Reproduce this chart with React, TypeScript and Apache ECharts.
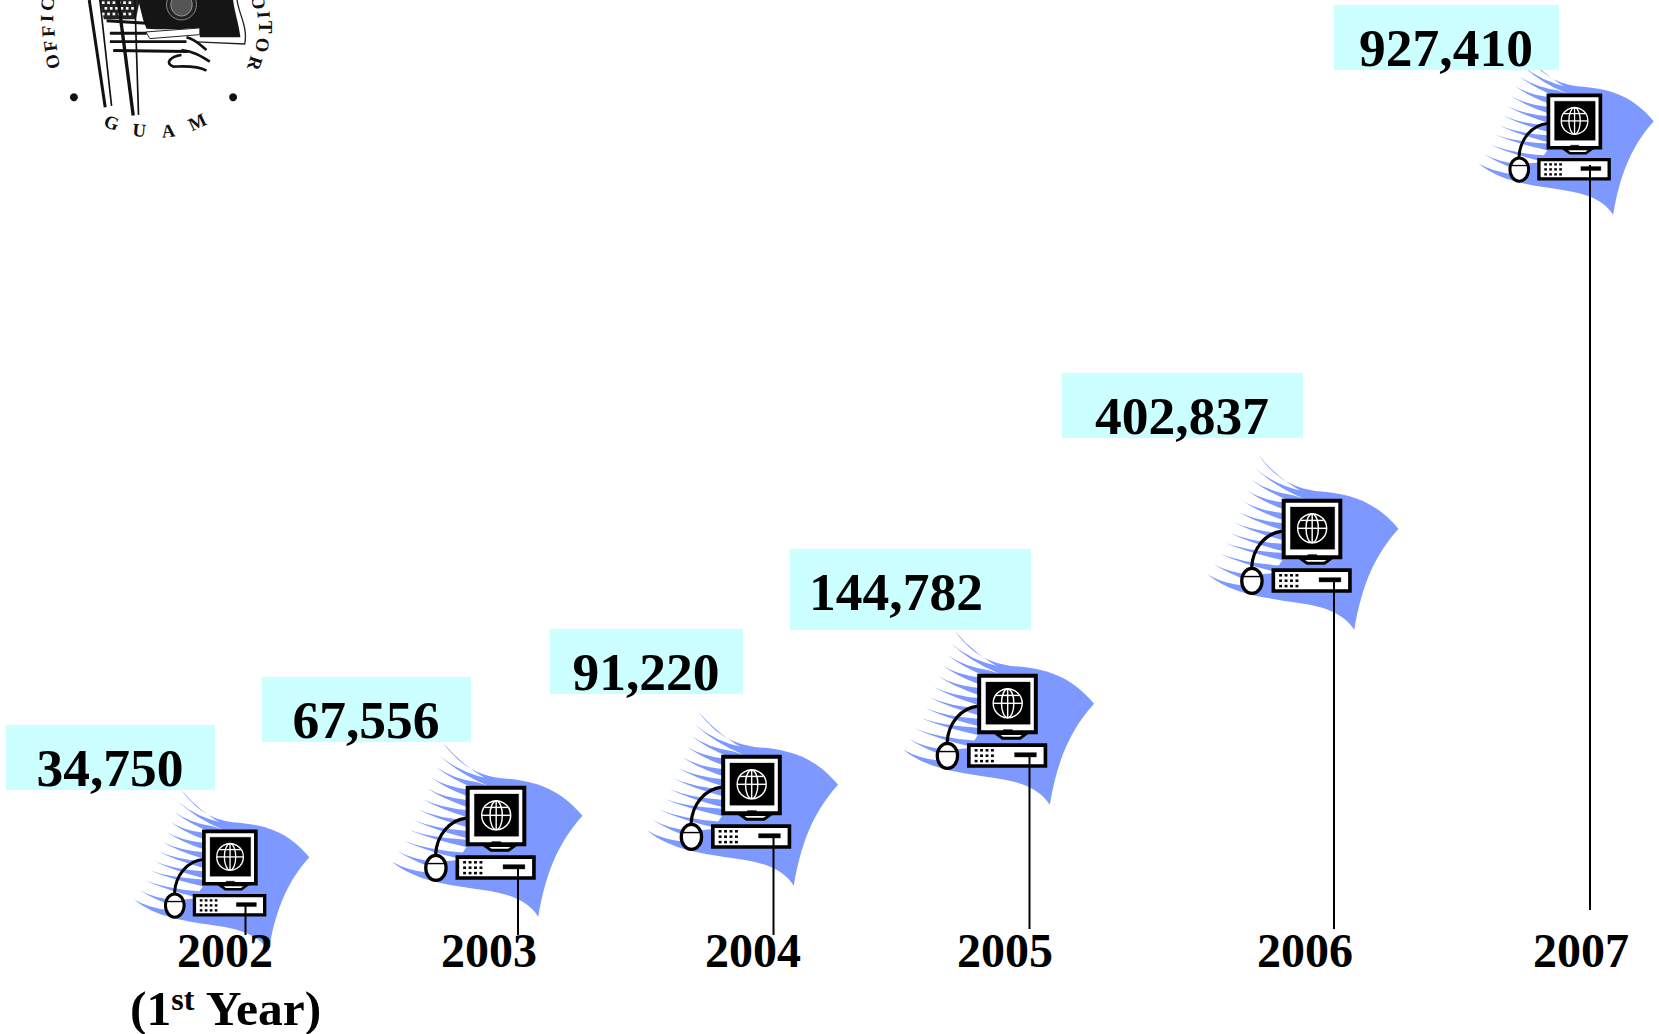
import React, { useEffect, useRef } from "react";
import * as echarts from "echarts";

// ---- data ----
const years = ["2002", "2003", "2004", "2005", "2006", "2007"];
const values = [34750, 67556, 91220, 144782, 402837, 927410];
const valueLabels = ["34,750", "67,556", "91,220", "144,782", "402,837", "927,410"];

// ---- hand layout of the pictogram, in page units (y measured up from the page bottom) ----
const stemX = [245.5, 518, 773.5, 1029.5, 1334, 1590];
const stemTop = [131, 169, 200, 281, 456, 869];
const stemBase = [99, 99, 99, 105, 105, 124];
const iconScaleX = [1, 1.09, 1.09, 1.09, 1.09, 1];
const iconScaleY = [1, 1.08, 1.08, 1.08, 1.08, 1];
const iconDX = [0, -5, -5, -5, -5, 0];
const iconDY = [0, 0, 0, 0, 0, 2];
const yearX = [225, 489, 753, 1005, 1305, 1581];
const yearY = [84, 84, 84, 84, 84, 84];
const boxLeft = [6, 262, 550, 790, 1062, 1334];
const boxRight = [215, 471, 743, 1031, 1303, 1559];
const boxTop = [309, 357, 405, 485, 661, 1029];
const boxBottom = [244, 292, 340, 404, 596, 964];
const labelX = [110, 366, 646, 896, 1182, 1446];
const labelY = [266, 314, 362, 442, 618, 986];

const BLUE = "#7d99ff";
const CYAN = "#ccffff";

// wave with streaks, in 3x zoom units
const tips = [[44, 360], [60, 331], [76, 302], [92, 273], [105, 245], [117, 216], [129, 187], [141, 157], [153, 127], [165, 97], [175, 65], [185, 30]];
const ends = [[150, 402], [170, 372], [240, 345], [250, 310], [250, 285], [255, 256], [255, 228], [255, 200], [255, 170], [280, 150], [310, 140], [330, 134]];
const half = 10;
const ctrl = (i: number, off: number) => {
  const [tx, ty] = tips[i];
  const [ex, ey] = ends[i];
  return `${tx + (ex - tx) * 0.4} ${ty + (ey - ty) * 0.66 + off}`;
};
let waveD = "M570 233 C510 300 470 380 448 514 C420 470 370 450 300 440 C200 425 110 415 44 360 ";
for (let i = 0; i < tips.length - 1; i++) {
  waveD += `Q${ctrl(i, -2)} ${ends[i][0]} ${ends[i][1] - half} `;
  waveD += `L${ends[i + 1][0]} ${ends[i + 1][1] + half} `;
  waveD += `Q${ctrl(i + 1, 2)} ${tips[i + 1][0]} ${tips[i + 1][1]} `;
}
waveD += "C225 85 270 118 340 128 C430 135 500 150 570 233 Z";
echarts.graphic.registerShape("iconWave", echarts.graphic.extendPath(waveD, {}));
echarts.graphic.registerShape("iconCable", echarts.graphic.extendPath("M250 240 C205 245 168 285 165 342", {}));
echarts.graphic.registerShape(
  "sealFlag",
  echarts.graphic.extendPath("M415 0 L700 0 C705 40 715 60 722 112 L600 112 L600 84 C540 88 490 90 440 86 L430 60 C425 40 420 20 415 0 Z", {}),
);
echarts.graphic.registerShape(
  "sealEdge",
  echarts.graphic.extendPath("M712 0 C716 40 745 80 735 132 L590 126", {}),
);
echarts.graphic.registerShape(
  "sealTail",
  echarts.graphic.extendPath("M560 112 C590 120 600 135 620 150 M545 150 C580 155 600 165 630 185 M545 165 C510 170 495 190 520 200 C545 200 590 195 620 212", {}),
);

function computer(): any[] {
  const black = { fill: "#000", stroke: "#000" };
  const dots: any[] = [];
  for (let c = 0; c < 4; c++) {
    for (let r = 0; r < 3; r++) {
      dots.push({ type: "rect", shape: { x: 241 + c * 15, y: 359 + r * 15, width: 8, height: 7 }, style: { fill: "#000" } });
    }
  }
  const line = { stroke: "#fff", lineWidth: 4, fill: "none" };
  return [
    { type: "iconCable", style: { fill: "none", stroke: "#000", lineWidth: 9 } },
    { type: "rect", shape: { x: 253.5, y: 155.5, width: 156, height: 157 }, style: { fill: "#fff", stroke: "#000", lineWidth: 11 } },
    { type: "rect", shape: { x: 272, y: 173, width: 122, height: 117 }, style: black },
    { type: "circle", shape: { cx: 332, cy: 232, r: 40 }, style: line },
    { type: "ellipse", shape: { cx: 332, cy: 232, rx: 17, ry: 40 }, style: line },
    { type: "line", shape: { x1: 332, y1: 192, x2: 332, y2: 272 }, style: line },
    { type: "line", shape: { x1: 292, y1: 232, x2: 372, y2: 232 }, style: line },
    { type: "line", shape: { x1: 300, y1: 210, x2: 364, y2: 210 }, style: line },
    { type: "polygon", shape: { points: [[300, 316], [318, 329], [366, 329], [384, 316]] }, style: { fill: "#fff", stroke: "#000", lineWidth: 8 } },
    { type: "rect", shape: { x: 320, y: 305, width: 25, height: 12 }, style: black },
    { type: "rect", shape: { x: 225, y: 348, width: 211, height: 58 }, style: { fill: "#fff", stroke: "#000", lineWidth: 10 } },
    ...dots,
    { type: "rect", shape: { x: 351, y: 369, width: 60, height: 12 }, style: black },
    { type: "ellipse", shape: { cx: 166, cy: 378, rx: 28, ry: 35 }, style: { fill: "#fff", stroke: "#000", lineWidth: 9 } },
    { type: "line", shape: { x1: 141, y1: 366, x2: 191, y2: 366 }, style: { stroke: "#000", lineWidth: 4 } },
  ];
}

function seal(): any {
  const letter = (t: string, x: number, y: number, deg: number) => ({
    type: "text",
    x,
    y,
    rotation: (-deg * Math.PI) / 180,
    style: { text: t, font: "bold 56px 'Liberation Serif'", fill: "#111", align: "center", verticalAlign: "middle" },
  });
  const stars: any[] = [];
  for (let r = 0; r < 3; r++) {
    for (let c = 0; c < 6; c++) {
      stars.push({ type: "rect", shape: { x: 306 + c * 16 + (r % 2) * 8, y: 4 + r * 17, width: 8, height: 8 }, style: { fill: "#fff" } });
    }
  }
  const pole = (x1: number, x2: number, y2: number, w: number) => ({
    type: "line",
    shape: { x1, y1: 0, x2, y2 },
    style: { stroke: "#111", lineWidth: w },
  });
  const stripe = (x1: number, y1: number, x2: number, y2: number, w: number) => ({
    type: "line",
    shape: { x1, y1, x2, y2 },
    style: { stroke: "#111", lineWidth: w },
  });
  return {
    type: "group",
    scaleX: 1 / 3,
    scaleY: 1 / 3,
    silent: true,
    children: [
      { type: "polygon", shape: { points: [[298, 0], [420, 0], [408, 58], [312, 58]] }, style: { fill: "#222" } },
      ...stars,
      { type: "sealFlag", style: { fill: "#151515" } },
      { type: "sealEdge", style: { fill: "none", stroke: "#222", lineWidth: 4 } },
      { type: "ellipse", shape: { cx: 545, cy: 14, rx: 45, ry: 46 }, style: { fill: "#222", stroke: "#888", lineWidth: 3 } },
      { type: "ellipse", shape: { cx: 545, cy: 14, rx: 32, ry: 34 }, style: { fill: "#555", stroke: "#999", lineWidth: 3 } },
      { type: "polygon", shape: { points: [[438, 96], [600, 84], [600, 104], [450, 116]] }, style: { fill: "#fff", stroke: "#222", lineWidth: 3 } },
      stripe(320, 62, 440, 70, 9),
      stripe(330, 100, 440, 100, 9),
      stripe(330, 125, 560, 125, 9),
      stripe(340, 152, 565, 155, 9),
      { type: "sealTail", style: { fill: "none", stroke: "#111", lineWidth: 8 } },
      pole(268, 316, 322, 9),
      pole(300, 335, 318, 5),
      pole(355, 400, 347, 10),
      pole(405, 416, 345, 5),
      letter("O", 157, 185, -105),
      letter("F", 150, 138, -98),
      letter("F", 144, 94, -92),
      letter("I", 140, 55, -88),
      letter("C", 142, 12, -84),
      letter("O", 776, 6, 82),
      letter("I", 792, 44, 86),
      letter("T", 795, 82, 90),
      letter("O", 788, 135, 98),
      letter("R", 765, 190, 108),
      letter("G", 335, 368, 18),
      letter("U", 418, 390, 5),
      letter("A", 505, 392, -6),
      letter("M", 592, 366, -25),
      { type: "circle", shape: { cx: 222, cy: 292, r: 12 }, style: { fill: "#111" } },
      { type: "circle", shape: { cx: 700, cy: 292, r: 12 }, style: { fill: "#111" } },
    ],
  };
}

const rows = years.map((y, i) => [stemX[i], stemTop[i], values[i], y]);

function renderItem(params: any, api: any) {
  const i = params.dataIndex;
  const top = api.coord([api.value(0), api.value(1)]);
  const base = api.coord([stemX[i], stemBase[i]]);
  const boxA = api.coord([boxLeft[i], boxTop[i]]);
  const boxB = api.coord([boxRight[i], boxBottom[i]]);
  const lab = api.coord([labelX[i], labelY[i]]);
  const yr = api.coord([yearX[i], yearY[i]]);
  return {
    type: "group",
    children: [
      {
        type: "group",
        x: top[0] + iconDX[i],
        y: top[1] + iconDY[i],
        scaleX: iconScaleX[i] / 3,
        scaleY: iconScaleY[i] / 3,
        children: [
          {
            type: "group",
            x: -378,
            y: -370,
            children: [{ type: "iconWave", style: { fill: BLUE } }, ...computer()],
          },
        ],
      },
      { type: "line", shape: { x1: top[0], y1: top[1], x2: base[0], y2: base[1] }, style: { stroke: "#000", lineWidth: 2 } },
      { type: "rect", shape: { x: boxA[0], y: boxA[1], width: boxB[0] - boxA[0], height: boxB[1] - boxA[1] }, style: { fill: CYAN } },
      {
        type: "text",
        x: lab[0],
        y: lab[1],
        style: { text: valueLabels[i], font: "bold 53.5px 'Liberation Serif'", fill: "#000", align: "center", verticalAlign: "middle" },
      },
      {
        type: "text",
        x: yr[0],
        y: yr[1],
        style: { text: years[i], font: "bold 48px 'Liberation Serif'", fill: "#000", align: "center", verticalAlign: "middle" },
      },
    ],
  };
}

export default function App() {
  const ref = useRef<HTMLDivElement>(null);
  useEffect(() => {
    const chart = echarts.init(ref.current!, null, { renderer: "svg" });
    chart.setOption({
      animation: false,
      backgroundColor: "#fff",
      grid: { left: 0, right: 0, top: 0, bottom: 0 },
      xAxis: { type: "value", min: 0, max: 1659, show: false },
      yAxis: { type: "value", min: 0, max: 1034, show: false },
      series: [{ type: "custom", renderItem, data: rows, clip: false, silent: true }],
      graphic: [
        seal(),
        {
          type: "text",
          x: 226,
          y: 1008,
          silent: true,
          style: {
            text: "{a|(1}{s|st}{a| Year)}",
            align: "center",
            verticalAlign: "middle",
            rich: {
              a: { font: "bold 49.5px 'Liberation Serif'", fill: "#000", color: "#000", verticalAlign: "bottom" },
              s: { font: "bold 32px 'Liberation Serif'", fill: "#000", color: "#000", verticalAlign: "top" },
            },
          },
        },
      ],
    });
    return () => chart.dispose();
  }, []);
  return <div ref={ref} style={{ position: "absolute", left: 0, top: 0, width: 1659, height: 1034 }} />;
}
